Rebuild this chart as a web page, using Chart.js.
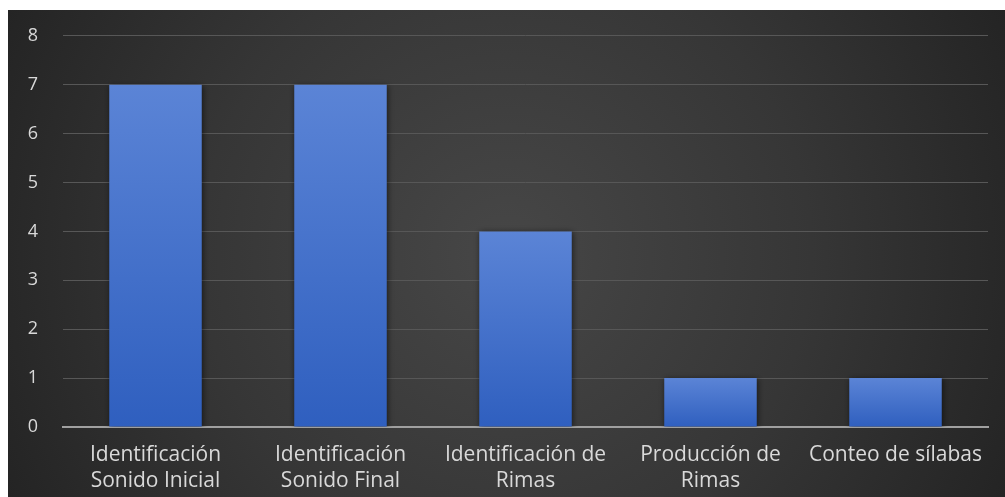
<!DOCTYPE html>
<html>
<head>
<meta charset="utf-8">
<script src="https://cdn.jsdelivr.net/npm/chart.js@4"></script>
<style>
  html, body { margin: 0; padding: 0; background: #ffffff; }
  #wrap { width: 1005px; height: 497px; position: relative; }
</style>
</head>
<body>
<div id="wrap"><canvas id="c" width="1005" height="497"></canvas></div>
<script>
const categories = [
  ["Identificación", "Sonido Inicial"],
  ["Identificación", "Sonido Final"],
  ["Identificación de", "Rimas"],
  ["Producción de", "Rimas"],
  "Conteo de sílabas"
];
const values = [7, 7, 4, 1, 1];
const yTicks = [0, 1, 2, 3, 4, 5, 6, 7, 8];

const bgPlugin = {
  id: 'bg',
  beforeDraw(chart) {
    const ctx = chart.ctx;
    const x0 = 8, y0 = 10, x1 = chart.width, y1 = chart.height;
    ctx.save();
    ctx.fillStyle = '#ffffff';
    ctx.fillRect(0, 0, chart.width, chart.height);
    const cx = (x0 + x1) / 2, cy = (y0 + y1) / 2;
    const g = ctx.createRadialGradient(cx, cy, 0, cx, cy, Math.hypot(x1 - x0, y1 - y0) / 2);
    g.addColorStop(0, '#474747');
    g.addColorStop(0.55, '#363636');
    g.addColorStop(1, '#242424');
    ctx.fillStyle = g;
    ctx.fillRect(x0, y0, x1 - x0, y1 - y0);
    ctx.restore();
  }
};

const shadowPlugin = {
  id: 'barShadow',
  beforeDatasetsDraw(chart) {
    const ctx = chart.ctx;
    ctx.save();
    ctx.shadowColor = 'rgba(0,0,0,0.55)';
    ctx.shadowBlur = 6;
    ctx.shadowOffsetX = 1;
    ctx.shadowOffsetY = 1;
  },
  afterDatasetsDraw(chart) {
    chart.ctx.restore();
  }
};

function barGradient(context) {
  const chart = context.chart;
  const area = chart.chartArea;
  if (!area) return '#4472c4';
  const yScale = chart.scales.y;
  const v = context.raw;
  const top = yScale.getPixelForValue(v);
  const bottom = yScale.getPixelForValue(0);
  const g = chart.ctx.createLinearGradient(0, top, 0, bottom);
  g.addColorStop(0, '#5b84d6');
  g.addColorStop(1, '#2f5fbf');
  return g;
}

new Chart(document.getElementById('c'), {
  type: 'bar',
  data: {
    labels: categories,
    datasets: [{
      data: values,
      backgroundColor: barGradient,
      borderWidth: 0,
      categoryPercentage: 1.0,
      barPercentage: 0.5
    }]
  },
  options: {
    responsive: false,
    animation: false,
    devicePixelRatio: 1,
    layout: { padding: { left: 8, right: 17, top: 35, bottom: 0 } },
    plugins: { legend: { display: false }, tooltip: { enabled: false } },
    scales: {
      x: {
        grid: { display: false, drawTicks: false },
        border: { display: true, color: '#a0a0a0', width: 2 },
        ticks: {
          color: '#d9d9d9',
          font: { family: 'Open Sans', size: 21, lineHeight: 1.24 },
          padding: 15,
          maxRotation: 0,
          autoSkip: false
        },
        afterFit(scale) { scale.height = 70; }
      },
      y: {
        min: 0,
        max: 8,
        afterBuildTicks(scale) { scale.ticks = yTicks.map(v => ({ value: v })); },
        grid: { color: '#575757', lineWidth: 1, drawTicks: false },
        border: { display: false },
        ticks: {
          color: '#d9d9d9',
          font: { family: 'Open Sans', size: 18 },
          padding: 25,
          crossAlign: 'center'
        },
        afterFit(scale) { scale.width = 55; }
      }
    }
  },
  plugins: [bgPlugin, shadowPlugin]
});
</script>
</body>
</html>
